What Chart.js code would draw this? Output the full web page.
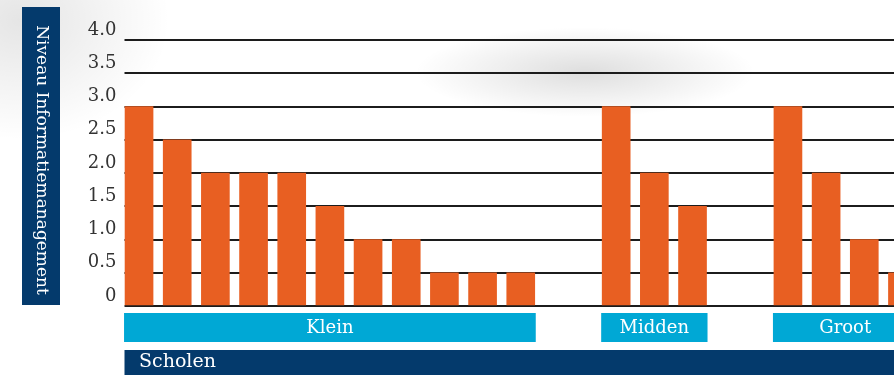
<!DOCTYPE html>
<html><head><meta charset="utf-8">
<script src="https://cdn.jsdelivr.net/npm/chart.js@4"></script>
<style>
html,body{margin:0;padding:0;width:894px;height:375px;overflow:hidden;background:#fff;}
#wrap{position:relative;width:912px;height:375px;
background:
 radial-gradient(ellipse 170px 45px at 585px 72px, rgba(0,0,0,0.13), rgba(0,0,0,0) 100%),
 radial-gradient(ellipse 150px 120px at 20px 20px, rgba(0,0,0,0.10), rgba(0,0,0,0) 100%),
 #fff;}
</style></head><body><div id="wrap"><canvas id="c"></canvas></div>
<script>
// ---- data ----
const groupNames = ['Klein', 'Midden', 'Groot'];
const klein  = [3.0, 2.5, 2.0, 2.0, 2.0, 1.5, 1.0, 1.0, 0.5, 0.5, 0.5];
const midden = [3.0, 2.0, 1.5];
const groot  = [3.0, 2.0, 1.0, 0.5];
const yTicks = [0, 0.5, 1.0, 1.5, 2.0, 2.5, 3.0, 3.5, 4.0];
const yTitle = 'Niveau Informatiemanagement';
const xTitle = 'Scholen';

// ---- style ----
const BAR_W = 28;
const ORANGE = '#e85f22';
const LIGHTBLUE = '#00a8d5';
const NAVY = '#043a6c';

// build category table (half-step slots so group gaps can be 2.5 bar pitches)
const groupsData = [klein, midden, groot];
const labels = [], values = [], groupRanges = [];
let idx = 0;
groupsData.forEach((g, gi) => {
  if (gi > 0) { for (let k = 0; k < 4; k++) { labels.push(''); values.push(null); idx++; } }
  const start = idx;
  g.forEach((v, i) => {
    if (i > 0) { labels.push(''); values.push(null); idx++; }
    labels.push(groupNames[gi] + ' ' + (i + 1)); values.push(v); idx++;
  });
  groupRanges.push({ name: groupNames[gi], first: start, last: idx - 1 });
});

const deco = {
  id: 'deco',
  afterDraw(chart) {
    const { ctx, chartArea, scales: { x } } = chart;
    const W = chart.width;
    const half = BAR_W / 2;
    ctx.save();
    // group boxes
    groupRanges.forEach(g => {
      const l = x.getPixelForValue(g.first) - half - 1;
      const r = x.getPixelForValue(g.last) + half + 1;
      ctx.fillStyle = LIGHTBLUE;
      ctx.fillRect(l, 313, r - l, 29);
      ctx.fillStyle = '#fff';
      ctx.font = '18px "DejaVu Serif", serif';
      ctx.textAlign = 'center';
      ctx.textBaseline = 'middle';
      ctx.fillText(g.name, (l + r) / 2, 328);
    });
    // Scholen bar
    const sl = chartArea.left - 5;
    ctx.fillStyle = NAVY;
    ctx.fillRect(sl, 350, W - sl, 25);
    ctx.fillStyle = '#fff';
    ctx.font = '19px "DejaVu Serif", serif';
    ctx.textAlign = 'left';
    ctx.textBaseline = 'middle';
    ctx.fillText(xTitle, 139, 362);
    // y title box
    ctx.fillStyle = NAVY;
    ctx.fillRect(22, 7, 38, 298);
    ctx.translate(41, 160);
    ctx.rotate(Math.PI / 2);
    ctx.fillStyle = '#fff';
    ctx.font = '17px "DejaVu Serif", serif';
    ctx.textAlign = 'center';
    ctx.textBaseline = 'middle';
    ctx.fillText(yTitle, 0, 0);
    ctx.restore();
  }
};

new Chart(document.getElementById('c'), {
  type: 'bar',
  data: {
    labels: labels,
    datasets: [{
      data: values,
      backgroundColor: ORANGE,
      borderWidth: 0,
      barThickness: BAR_W,
      clip: false
    }]
  },
  options: {
    responsive: true,
    maintainAspectRatio: false,
    animation: false,
    devicePixelRatio: 1,
    layout: { padding: { left: 0, right: 0, top: 40, bottom: 69 } },
    plugins: { legend: { display: false }, tooltip: { enabled: false } },
    scales: {
      x: { display: false },
      y: {
        min: 0, max: 4,
        afterBuildTicks: s => { s.ticks = yTicks.map(v => ({ value: v })); },
        afterFit: s => { s.width = 129.5; },
        border: { display: false },
        grid: { color: '#1c1c1c', lineWidth: 2, drawTicks: true, tickLength: 5, tickColor: '#1c1c1c' },
        ticks: {
          callback: v => v === 0 ? '0' : Number(v).toFixed(1),
          labelOffset: -10,
          padding: 8,
          color: '#333',
          font: { family: 'DejaVu Serif', size: 18 }
        }
      }
    }
  },
  plugins: [deco]
});
</script>
</body></html>
